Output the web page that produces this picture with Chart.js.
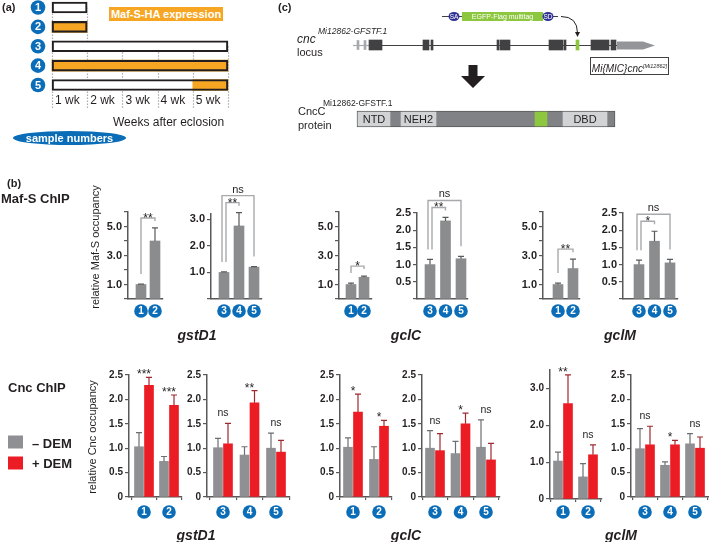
<!DOCTYPE html>
<html>
<head>
<meta charset="utf-8">
<script src="https://cdn.jsdelivr.net/npm/chart.js@4.4.1/dist/chart.umd.min.js"></script>
<style>
  body { margin: 0; }
  #fig { position: relative; width: 709px; height: 542px; overflow: hidden; background: #fff;
         font-family: "Liberation Sans", Arial, sans-serif; color: #231f20; }
  #fig canvas { position: absolute; left: 0; top: 0; }
  .t { position: absolute; white-space: nowrap; line-height: 1; }
</style>
</head>
<body>
<div id="fig"></div>
<script>
// (a) sampling scheme
const sampleIds = ['1', '2', '3', '4', '5'];
const sampleWeeks = [1, 1, 5, 5, 5];
const mafOnFrom = [null, 0, null, 0, 4];   // week where Maf-S-HA expression starts
const weekLabels = ['1 wk', '2 wk', '3 wk', '4 wk', '5 wk'];

// (c) cnc locus and protein, gene units
const utrExons = [[4, 6], [11, 13]];
const codingExons = [[16, 29], [70, 76], [78, 80], [144, 146], [147, 157], [196, 210], [211, 213], [238, 256], [258, 263]];
const tagExon = [[223, 226]];
const utrTail = [264, 302];
const proteinSpan = [[4, 262]];
const domainNames = ['NTD', 'NEH2', 'DBD'];
const domainSpans = [[5, 37], [48, 83], [210, 254]];
const tagDomain = [[182, 194]];
const cassetteSpan = [89, 205];
const cassetteBox = [109, 190];
const cassetteSites = [['SA', 101], ['SD', 195]];

// (b) Maf-S ChIP, mean and SEM
const mafGstD1Young = [1.0, 4.0];
const mafGstD1YoungSem = [0.03, 0.9];
const mafGstD1Old = [1.0, 2.75, 1.2];
const mafGstD1OldSem = [0.02, 0.5, 0.02];
const mafGclCYoung = [1.0, 1.5];
const mafGclCYoungSem = [0.1, 0.08];
const mafGclCOld = [1.0, 2.27, 1.17];
const mafGclCOldSem = [0.15, 0.1, 0.07];
const mafGclMYoung = [1.0, 2.1];
const mafGclMYoungSem = [0.1, 0.65];
const mafGclMOld = [1.0, 1.68, 1.05];
const mafGclMOldSem = [0.13, 0.29, 0.1];
const mafGstD1YoungSig = [[0, 1, '**']];
const mafGstD1OldSig = [[0, 1, '**'], [0, 2, 'ns']];
const mafGclCYoungSig = [[0, 1, '*']];
const mafGclCOldSig = [[0, 1, '**'], [0, 2, 'ns']];
const mafGclMYoungSig = [[0, 1, '**']];
const mafGclMOldSig = [[0, 1, '*'], [0, 2, 'ns']];

// (b) Cnc ChIP, - DEM / + DEM, mean and SEM
const cncGstD1YoungMinus = [1.03, 0.73], cncGstD1YoungMinusSem = [0.29, 0.10];
const cncGstD1YoungPlus = [2.29, 1.88], cncGstD1YoungPlusSem = [0.16, 0.21];
const cncGstD1OldMinus = [1.01, 0.86, 1.00], cncGstD1OldMinusSem = [0.19, 0.17, 0.31];
const cncGstD1OldPlus = [1.09, 1.93, 0.92], cncGstD1OldPlusSem = [0.42, 0.25, 0.24];
const cncGclCYoungMinus = [1.02, 0.77], cncGclCYoungMinusSem = [0.19, 0.26];
const cncGclCYoungPlus = [1.74, 1.45], cncGclCYoungPlusSem = [0.37, 0.12];
const cncGclCOldMinus = [1.00, 0.89, 1.02], cncGclCOldMinusSem = [0.36, 0.25, 0.56];
const cncGclCOldPlus = [0.95, 1.50, 0.76], cncGclCOldPlusSem = [0.35, 0.22, 0.34];
const cncGclMYoungMinus = [1.03, 0.60], cncGclMYoungMinusSem = [0.24, 0.36];
const cncGclMYoungPlus = [2.59, 1.20], cncGclMYoungPlusSem = [0.78, 0.27];
const cncGclMOldMinus = [0.99, 0.65, 1.09], cncGclMOldMinusSem = [0.41, 0.07, 0.21];
const cncGclMOldPlus = [1.07, 1.07, 1.00], cncGclMOldPlusSem = [0.38, 0.09, 0.23];
const cncGstD1YoungSig = ['***', '***'];
const cncGstD1OldSig = ['ns', '**', 'ns'];
const cncGclCYoungSig = ['*', '*'];
const cncGclCOldSig = ['ns', '*', 'ns'];
const cncGclMYoungSig = ['**', 'ns'];
const cncGclMOldSig = ['ns', '*', 'ns'];

const FONT = '"Liberation Sans", Arial, sans-serif';
const blue = '#0b6db7', orange = '#f6a623', green = '#8dc63f', ink = '#231f20', axisColor = '#58595b';
const mafGray = '#8a8c8e', minusGray = '#8f9093', plusRed = '#ec1c24';

const fig = document.getElementById('fig');
Chart.defaults.font.family = FONT;
Chart.defaults.color = ink;
const base = { responsive: false, animation: false, devicePixelRatio: 1, events: [] };

function addCanvas() {
  const c = document.createElement('canvas');
  c.width = 709; c.height = 542;
  fig.appendChild(c);
  return c;
}

function label(html, x, y, css, align) {
  const d = document.createElement('div');
  d.className = 't';
  d.innerHTML = html;
  d.style.cssText += css || '';
  d.style.left = x + 'px';
  d.style.top = y + 'px';
  const tx = align === 'center' ? '-50%' : align === 'right' ? '-100%' : '0';
  d.style.transform = align === 'vertical' ? 'translate(-50%, -50%) rotate(-90deg)' : 'translate(' + tx + ', -50%)';
  fig.appendChild(d);
  return d;
}

// one-sided SEM whiskers
const errorBars = {
  id: 'errorBars',
  afterDatasetsDraw(chart) {
    const { ctx } = chart;
    const y = chart.scales.y;
    chart.data.datasets.forEach((ds, k) => {
      if (!ds.sem) return;
      ctx.save();
      ctx.strokeStyle = ds.errColor;
      ctx.lineWidth = 1.2;
      chart.getDatasetMeta(k).data.forEach((bar, i) => {
        const top = y.getPixelForValue(ds.data[i].y + ds.sem[i]);
        ctx.beginPath();
        ctx.moveTo(bar.x, bar.y);
        ctx.lineTo(bar.x, top);
        ctx.moveTo(bar.x - 3, top);
        ctx.lineTo(bar.x + 3, top);
        ctx.stroke();
      });
      ctx.restore();
    });
  }
};

function sampleCircles(ids, cy) {
  return {
    id: 'sampleCircles',
    afterDraw(chart) {
      const { ctx } = chart;
      const x = chart.scales.x;
      ctx.save();
      ids.forEach((id, i) => {
        const cx = x.getPixelForValue(i);
        ctx.beginPath();
        ctx.arc(cx, cy, 6.8, 0, Math.PI * 2);
        ctx.fillStyle = blue;
        ctx.fill();
        ctx.fillStyle = '#fff';
        ctx.font = 'bold 10px ' + FONT;
        ctx.textAlign = 'center';
        ctx.textBaseline = 'middle';
        ctx.fillText(id, cx, cy + 0.5);
      });
      ctx.restore();
    }
  };
}

function bracketMarks(list) {
  return {
    id: 'brackets',
    afterDatasetsDraw(chart) {
      const { ctx } = chart;
      const y = chart.scales.y;
      const ds = chart.data.datasets[0];
      const bars = chart.getDatasetMeta(0).data;
      const caps = bars.map((b, i) => y.getPixelForValue(ds.data[i].y + ds.sem[i]));
      const sorted = list.slice().sort((a, b) => (a[1] - a[0]) - (b[1] - b[0]));
      let prev = Infinity;
      ctx.save();
      ctx.strokeStyle = '#a7a9ac';
      ctx.lineWidth = 1.4;
      ctx.fillStyle = ink;
      ctx.textAlign = 'center';
      sorted.forEach(([from, to, text]) => {
        const level = Math.min(Math.min(...caps.slice(from, to + 1)) - 10, prev - 7);
        prev = level;
        const nudge = sorted.length > 1 ? (to - from > 1 ? -2 : 2) : 0;
        const x1 = bars[from].x + nudge, x2 = bars[to].x;
        ctx.beginPath();
        ctx.moveTo(x1, caps[from] - 10);
        ctx.lineTo(x1, level);
        ctx.lineTo(x2, level);
        ctx.lineTo(x2, Math.max(caps[to] - 10, level + 3));
        ctx.stroke();
        const stars = text.includes('*');
        ctx.font = (stars ? '12px ' : '11px ') + FONT;
        ctx.fillText(text, (x1 + x2) / 2, stars ? level + 4 : level - 3);
      });
      ctx.restore();
    }
  };
}

function groupMarks(list) {
  return {
    id: 'groupMarks',
    afterDatasetsDraw(chart) {
      const { ctx } = chart;
      const x = chart.scales.x, y = chart.scales.y;
      const sets = chart.data.datasets;
      ctx.save();
      ctx.fillStyle = ink;
      ctx.textAlign = 'center';
      list.forEach((text, i) => {
        const top = Math.min(...sets.map(ds => y.getPixelForValue(ds.data[i].y + ds.sem[i])));
        const stars = text.includes('*');
        ctx.font = (stars ? '12px ' : '10.5px ') + FONT;
        ctx.fillText(text, x.getPixelForValue(i), stars ? top + 1 : top - 7);
      });
      ctx.restore();
    }
  };
}

function occupancy(g) {
  const n = g.ids.length;
  const pair = g.series.length > 1;
  const shift = pair ? 5 / g.step : 0;
  const datasets = g.series.map((s, k) => ({
    data: s.mean.map((v, i) => ({ x: i + (k * 2 - (g.series.length - 1)) * shift, y: v })),
    sem: s.sem,
    errColor: s.err,
    backgroundColor: s.color,
    barThickness: g.bar,
    grouped: false
  }));
  new Chart(addCanvas(), {
    type: 'bar',
    data: { datasets },
    options: {
      ...base,
      layout: { padding: { left: g.axis - 34, right: 709 - g.right, top: g.top, bottom: 542 - g.base } },
      plugins: { legend: { display: false }, tooltip: { enabled: false } },
      scales: {
        x: {
          type: 'linear', offset: false,
          min: -(g.first - g.axis) / g.step, max: (g.right - g.first) / g.step,
          afterFit: s => { s.height = 0; },
          afterBuildTicks: s => { s.ticks = pair ? Array.from({ length: n + 1 }, (_, i) => ({ value: i - 0.5 })) : []; },
          ticks: { display: false },
          grid: { display: pair, offset: false, drawOnChartArea: false, tickLength: 3, color: axisColor, lineWidth: 1.2 },
          border: { color: axisColor, width: 1.5 }
        },
        y: {
          min: 0, max: g.yMax,
          afterFit: s => { s.width = 34; },
          afterBuildTicks: s => {
            const t = [];
            for (let k = 0; k * g.yStep <= g.yMax + 1e-9; k++) t.push({ value: Math.round(k * g.yStep * 100) / 100 });
            s.ticks = t;
          },
          ticks: { autoSkip: false, callback: g.fmt, color: ink, padding: 2, font: { size: g.tick, weight: 'bold' } },
          grid: { drawOnChartArea: false, tickLength: 4, color: axisColor, lineWidth: 1.2 },
          border: { color: axisColor, width: 1.5 }
        }
      }
    },
    plugins: [errorBars, sampleCircles(g.ids, g.cy), g.brackets ? bracketMarks(g.brackets) : groupMarks(g.marks)]
  });
}

const young = sampleIds.slice(0, 2), old = sampleIds.slice(2);
const oddLabels = v => (Math.round(v) % 2 === 1 ? v.toFixed(1) : '');
const wholeLabels = v => (v > 0 && Number.isInteger(v) ? v.toFixed(1) : '');
const halfLabels = v => (v > 0 ? v.toFixed(1) : '');
const cncLabels = v => (v === 0 ? '0' : v.toFixed(1));
const cncWholeLabels = v => (v === 0 ? '0' : Number.isInteger(v) ? v.toFixed(1) : '');
const maf = (mean, sem) => [{ mean, sem, color: mafGray, err: axisColor }];
const cnc = (m, ms, p, ps) => [
  { mean: m, sem: ms, color: minusGray, err: '#6d6e71' },
  { mean: p, sem: ps, color: plusRed, err: '#9e2a2f' }
];

// Maf-S ChIP row
occupancy({ axis: 128, first: 141, step: 14, right: 163, top: 212, base: 299, yMax: 6, yStep: 1, tick: 11, fmt: oddLabels,
  bar: 10, ids: young, cy: 311, series: maf(mafGstD1Young, mafGstD1YoungSem), brackets: mafGstD1YoungSig });
occupancy({ axis: 211, first: 224, step: 15, right: 262, top: 214, base: 299, yMax: 3.2, yStep: 1, tick: 11, fmt: wholeLabels,
  bar: 10, ids: old, cy: 311, series: maf(mafGstD1Old, mafGstD1OldSem), brackets: mafGstD1OldSig });
occupancy({ axis: 339, first: 351, step: 13, right: 372, top: 212, base: 299, yMax: 6, yStep: 1, tick: 11, fmt: oddLabels,
  bar: 10, ids: young, cy: 311, series: maf(mafGclCYoung, mafGclCYoungSem), brackets: mafGclCYoungSig });
occupancy({ axis: 417, first: 430, step: 15.5, right: 468, top: 213, base: 299, yMax: 2.5, yStep: 0.5, tick: 11, fmt: halfLabels,
  bar: 10, ids: old, cy: 311, series: maf(mafGclCOld, mafGclCOldSem), brackets: mafGclCOldSig });
occupancy({ axis: 543, first: 558, step: 15, right: 580, top: 212, base: 299, yMax: 6, yStep: 1, tick: 11, fmt: oddLabels,
  bar: 10, ids: young, cy: 311, series: maf(mafGclMYoung, mafGclMYoungSem), brackets: mafGclMYoungSig });
occupancy({ axis: 623, first: 639, step: 15.5, right: 678, top: 213, base: 299, yMax: 2.5, yStep: 0.5, tick: 11, fmt: halfLabels,
  bar: 10, ids: old, cy: 311, series: maf(mafGclMOld, mafGclMOldSem), brackets: mafGclMOldSig });

// Cnc ChIP row
occupancy({ axis: 129, first: 144, step: 25, right: 182, top: 375, base: 497, yMax: 2.5, yStep: 0.5, tick: 10, fmt: cncLabels,
  bar: 9, ids: young, cy: 512, series: cnc(cncGstD1YoungMinus, cncGstD1YoungMinusSem, cncGstD1YoungPlus, cncGstD1YoungPlusSem), marks: cncGstD1YoungSig });
occupancy({ axis: 207, first: 223, step: 26.5, right: 290, top: 375, base: 497, yMax: 2.5, yStep: 0.5, tick: 10, fmt: cncLabels,
  bar: 9, ids: old, cy: 512, series: cnc(cncGstD1OldMinus, cncGstD1OldMinusSem, cncGstD1OldPlus, cncGstD1OldPlusSem), marks: cncGstD1OldSig });
occupancy({ axis: 340, first: 353, step: 26, right: 392, top: 375, base: 497, yMax: 2.5, yStep: 0.5, tick: 10, fmt: cncLabels,
  bar: 9, ids: young, cy: 512, series: cnc(cncGclCYoungMinus, cncGclCYoungMinusSem, cncGclCYoungPlus, cncGclCYoungPlusSem), marks: cncGclCYoungSig });
occupancy({ axis: 422, first: 435, step: 25.5, right: 500, top: 375, base: 497, yMax: 2.5, yStep: 0.5, tick: 10, fmt: cncLabels,
  bar: 9, ids: old, cy: 512, series: cnc(cncGclCOldMinus, cncGclCOldMinusSem, cncGclCOldPlus, cncGclCOldPlusSem), marks: cncGclCOldSig });
occupancy({ axis: 550, first: 563, step: 25, right: 602, top: 370, base: 499, yMax: 3.5, yStep: 1, tick: 10, fmt: cncWholeLabels,
  bar: 9, ids: young, cy: 512, series: cnc(cncGclMYoungMinus, cncGclMYoungMinusSem, cncGclMYoungPlus, cncGclMYoungPlusSem), marks: cncGclMYoungSig });
occupancy({ axis: 631, first: 645, step: 25, right: 709, top: 375, base: 497, yMax: 2.5, yStep: 0.5, tick: 10, fmt: cncLabels,
  bar: 9, ids: old, cy: 512, series: cnc(cncGclMOldMinus, cncGclMOldMinusSem, cncGclMOldPlus, cncGclMOldPlusSem), marks: cncGclMOldSig });

// (a) scheme: white = no expression, orange = Maf-S-HA on
const schemeDecor = {
  id: 'schemeDecor',
  beforeDatasetsDraw(chart) {
    const { ctx } = chart;
    const { x, y } = chart.scales;
    const bottom = y.getPixelForValue(sampleIds.length - 1) + 23;
    ctx.save();
    ctx.strokeStyle = '#a7a9ac';
    ctx.lineWidth = 1.2;
    ctx.setLineDash([1.5, 1.5]);
    for (let w = 0; w <= weekLabels.length; w++) {
      const row = sampleWeeks.findIndex(d => d >= w);
      const px = Math.round(x.getPixelForValue(w)) + 0.5;
      ctx.beginPath();
      ctx.moveTo(px, y.getPixelForValue(row));
      ctx.lineTo(px, bottom);
      ctx.stroke();
    }
    ctx.restore();
  },
  afterDatasetsDraw(chart) {
    const { ctx, chartArea } = chart;
    const { x, y } = chart.scales;
    const labelY = y.getPixelForValue(sampleIds.length - 1) + 16;
    ctx.save();
    ctx.fillStyle = ink;
    ctx.font = '12px ' + FONT;
    ctx.textBaseline = 'middle';
    weekLabels.forEach((t, w) => ctx.fillText(t, x.getPixelForValue(w) + 3, labelY));
    ctx.textAlign = 'center';
    sampleIds.forEach((id, i) => {
      const cx = chartArea.left - 14, cy = y.getPixelForValue(i);
      ctx.beginPath();
      ctx.arc(cx, cy, 7.3, 0, Math.PI * 2);
      ctx.fillStyle = blue;
      ctx.fill();
      ctx.fillStyle = '#fff';
      ctx.font = 'bold 11px ' + FONT;
      ctx.fillText(id, cx, cy + 0.5);
    });
    ctx.restore();
  }
};

// first dataset is painted last (on top)
new Chart(addCanvas(), {
  type: 'bar',
  data: {
    labels: sampleIds,
    datasets: [
      { data: sampleWeeks.map((w, i) => ({ x: [0, w], y: sampleIds[i] })), backgroundColor: 'rgba(0,0,0,0)',
        borderColor: ink, borderWidth: 1.5, borderSkipped: false, barThickness: 11, grouped: false, clip: false },
      { data: mafOnFrom.flatMap((s, i) => (s === null ? [] : [{ x: [s, sampleWeeks[i]], y: sampleIds[i] }])),
        backgroundColor: orange, barThickness: 11, grouped: false, clip: false },
      { data: sampleWeeks.map((w, i) => ({ x: [0, w], y: sampleIds[i] })), backgroundColor: '#fff',
        barThickness: 11, grouped: false, clip: false }
    ]
  },
  options: {
    ...base,
    indexAxis: 'y',
    layout: { padding: { left: 52, right: 709 - 228, top: 7.5, bottom: 542 - 85 } },
    plugins: { legend: { display: false }, tooltip: { enabled: false } },
    scales: {
      x: { type: 'linear', min: 0, max: 5, display: false },
      y: { type: 'category', offset: false, display: false }
    }
  },
  plugins: [schemeDecor]
});

// (c) locus and protein
const locusDecor = {
  id: 'locusDecor',
  beforeDatasetsDraw(chart) {
    const { ctx } = chart;
    const { x, y } = chart.scales;
    const ly = Math.round(y.getPixelForValue(0)) + 0.5;
    ctx.save();
    ctx.lineWidth = 1.2;
    ctx.strokeStyle = '#a7a9ac';
    ctx.beginPath(); ctx.moveTo(x.getPixelForValue(0), ly); ctx.lineTo(x.getPixelForValue(codingExons[0][0]), ly); ctx.stroke();
    ctx.strokeStyle = '#414042';
    ctx.beginPath(); ctx.moveTo(x.getPixelForValue(codingExons[0][0]), ly); ctx.lineTo(x.getPixelForValue(utrTail[0]), ly); ctx.stroke();
    const x1 = x.getPixelForValue(utrTail[0]), x2 = x.getPixelForValue(utrTail[1]);
    ctx.fillStyle = '#939598';
    ctx.beginPath();
    ctx.moveTo(x1, ly - 4); ctx.lineTo(x2 - 12, ly - 4); ctx.lineTo(x2, ly);
    ctx.lineTo(x2 - 12, ly + 4); ctx.lineTo(x1, ly + 4); ctx.closePath(); ctx.fill();
    ctx.restore();
  },
  afterDatasetsDraw(chart) {
    const { ctx } = chart;
    const { x, y } = chart.scales;
    const ly = y.getPixelForValue(0), py = y.getPixelForValue(1);
    const cy = Math.round(ly - 29) + 0.5;
    ctx.save();
    // insertion cassette
    ctx.strokeStyle = '#414042';
    ctx.lineWidth = 1;
    ctx.beginPath(); ctx.moveTo(x.getPixelForValue(cassetteSpan[0]), cy); ctx.lineTo(x.getPixelForValue(cassetteSpan[1]), cy); ctx.stroke();
    const bx1 = x.getPixelForValue(cassetteBox[0]), bx2 = x.getPixelForValue(cassetteBox[1]);
    ctx.fillStyle = green;
    ctx.fillRect(bx1, cy - 4.5, bx2 - bx1, 9);
    ctx.fillStyle = '#fff';
    ctx.font = '7px ' + FONT;
    ctx.textAlign = 'center';
    ctx.textBaseline = 'middle';
    ctx.fillText('EGFP-Flag multitag', (bx1 + bx2) / 2, cy + 0.5);
    cassetteSites.forEach(([name, pos]) => {
      const sx = x.getPixelForValue(pos);
      ctx.beginPath();
      ctx.ellipse(sx, cy, 5.5, 4.5, 0, 0, Math.PI * 2);
      ctx.fillStyle = '#2e3192';
      ctx.fill();
      ctx.fillStyle = '#fff';
      ctx.font = '6.5px ' + FONT;
      ctx.fillText(name, sx, cy + 0.5);
    });
    // insertion arrow
    const ax1 = x.getPixelForValue(cassetteSpan[1]) + 3;
    const ax2 = x.getPixelForValue((tagExon[0][0] + tagExon[0][1]) / 2);
    ctx.strokeStyle = ink;
    ctx.beginPath(); ctx.moveTo(ax1, cy); ctx.quadraticCurveTo(ax2, cy, ax2, ly - 12); ctx.stroke();
    ctx.fillStyle = ink;
    ctx.beginPath(); ctx.moveTo(ax2 - 2.5, ly - 13); ctx.lineTo(ax2 + 2.5, ly - 13); ctx.lineTo(ax2, ly - 8); ctx.closePath(); ctx.fill();
    // translation arrow
    const dx = x.getPixelForValue(120);
    ctx.beginPath();
    ctx.moveTo(dx - 4.5, ly + 20); ctx.lineTo(dx + 4.5, ly + 20); ctx.lineTo(dx + 4.5, ly + 31);
    ctx.lineTo(dx + 12, ly + 31); ctx.lineTo(dx, ly + 43); ctx.lineTo(dx - 12, ly + 31);
    ctx.lineTo(dx - 4.5, ly + 31); ctx.closePath();
    ctx.fill();
    // domain names
    ctx.fillStyle = ink;
    ctx.font = '11px ' + FONT;
    domainNames.forEach((name, i) => ctx.fillText(name, x.getPixelForValue((domainSpans[i][0] + domainSpans[i][1]) / 2), py + 0.5));
    ctx.restore();
  }
};

const onRow = (spans, row) => spans.map(r => ({ x: r, y: row }));
new Chart(addCanvas(), {
  type: 'bar',
  data: {
    labels: ['locus', 'protein'],
    datasets: [
      { data: onRow(tagDomain, 'protein'), backgroundColor: green, barThickness: 14 },
      { data: onRow(domainSpans, 'protein'), backgroundColor: '#d1d3d4', barThickness: 14 },
      { data: onRow(proteinSpan, 'protein'), backgroundColor: '#808285', borderColor: '#58595b', borderWidth: 1, borderSkipped: false, barThickness: 16 },
      { data: onRow(tagExon, 'locus'), backgroundColor: green, barThickness: 10 },
      { data: onRow(codingExons, 'locus'), backgroundColor: '#414042', barThickness: 10 },
      { data: onRow(utrExons, 'locus'), backgroundColor: '#a7a9ac', barThickness: 9 }
    ]
  },
  options: {
    ...base,
    indexAxis: 'y',
    datasets: { bar: { grouped: false } },
    layout: { padding: { left: 353, right: 709 - 655, top: 8, bottom: 542 - 156 } },
    plugins: { legend: { display: false }, tooltip: { enabled: false } },
    scales: {
      x: { type: 'linear', min: 0, max: 302, display: false },
      y: { type: 'category', display: false }
    }
  },
  plugins: [locusDecor]
});

// text
const bold11 = 'font-weight:bold;font-size:11px;';
label('(a)', 2, 7, bold11);
label('(c)', 278, 7, bold11);
label('(b)', 7, 183, bold11);
label('Maf-S-HA expression', 109, 14,
  'font-weight:bold;font-size:11px;color:#fff;background:' + orange + ';width:114px;height:14px;line-height:14px;text-align:center;');
label('Weeks after eclosion', 113, 122, 'font-size:12px;');
label('sample numbers', 13, 138,
  'font-weight:bold;font-size:11px;color:#fff;background:' + blue + ';width:113px;height:14px;line-height:14px;text-align:center;border-radius:50%;');

label('<i>cnc</i>', 297, 39, 'font-size:12px;');
label('<i>Mi12862-GFSTF.1</i>', 318, 31, 'font-size:8.5px;');
label('locus', 297, 52, 'font-size:11px;');
label('CncC', 298, 111, 'font-size:11px;');
label('Mi12862-GFSTF.1', 323, 103, 'font-size:8.5px;');
label('protein', 298, 125, 'font-size:11px;');
label('<i>Mi{MIC}cnc<sup style="font-size:5.5px;vertical-align:4px">[Mi12862]</sup></i>', 590, 66,
  'font-size:10px;width:79px;height:18px;line-height:16px;text-align:center;border:1.5px solid #414042;box-sizing:border-box;');

label('Maf-S ChIP', 1, 198, 'font-weight:bold;font-size:13px;');
label('Cnc ChIP', 8, 387, 'font-weight:bold;font-size:13px;');
label('relative Maf-S occupancy', 95, 247, 'font-size:11px;', 'vertical');
label('relative Cnc occupancy', 92, 437, 'font-size:11px;', 'vertical');
label('', 8, 442, 'width:15px;height:13px;background:' + minusGray + ';');
label('', 8, 463, 'width:15px;height:13px;background:' + plusRed + ';');
label('– DEM', 32, 443, 'font-weight:bold;font-size:13px;');
label('+ DEM', 32, 463, 'font-weight:bold;font-size:13px;');

const gene = 'font-weight:bold;font-style:italic;font-size:14px;';
[[197, 335], [196, 535]].forEach(([x, y]) => label('gstD1', x, y, gene, 'center'));
[[406, 335], [406, 535]].forEach(([x, y]) => label('gclC', x, y, gene, 'center'));
[[620, 335], [621, 535]].forEach(([x, y]) => label('gclM', x, y, gene, 'center'));
</script>
</body>
</html>
